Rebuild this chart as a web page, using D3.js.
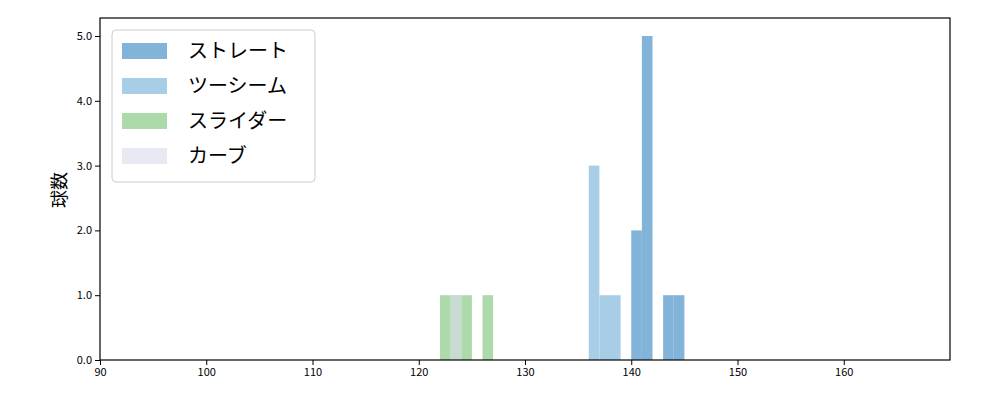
<!DOCTYPE html><html><head><meta charset="utf-8"><script src="https://cdn.jsdelivr.net/npm/d3@7"></script>
<style>body{margin:0;background:#fff}text{font-family:"Noto Sans CJK JP","DejaVu Sans",sans-serif}</style></head><body><svg width="1000" height="400"></svg><script>
const xTicks=[90,100,110,120,130,140,150,160];
const yTicks=[0,1,2,3,4,5];
const series=["ストレート","ツーシーム","スライダー","カーブ"];
const colors=["#82b3d8","#a7cee6","#acdaab","#dadaeb"];
const alphas=[1,1,1,0.6];
const binStarts=[[140,141,143,144],[136,137,138],[122,123,124,126],[123]];
const binCounts=[[2,5,1,1],[3,1,1],[1,1,1,1],[1]];
const svg=d3.select("svg");
const x=d3.scaleLinear().domain([90,170]).range([100,950]);
const y=d3.scaleLinear().domain([0,5]).range([360,36]);
series.forEach((s,i)=>{
 svg.append("g").selectAll("rect").data(binStarts[i].map((b,j)=>[b,binCounts[i][j]])).join("rect")
 .attr("x",d=>x(d[0])).attr("width",d=>x(d[0]+1)-x(d[0])).attr("y",d=>y(d[1])).attr("height",d=>y(0)-y(d[1]))
 .attr("fill",colors[i]).attr("fill-opacity",alphas[i]);
});
svg.append("g").attr("transform","translate(0,360)").call(d3.axisBottom(x).tickValues(xTicks).tickSize(5).tickSizeOuter(0)).call(g=>g.select(".domain").remove()).selectAll("text").attr("font-size",11).attr("fill","#000");
svg.append("g").attr("transform","translate(100,0)").call(d3.axisLeft(y).tickValues(yTicks).tickSize(5).tickSizeOuter(0)).call(g=>g.select(".domain").remove()).selectAll("text").attr("font-size",11).attr("fill","#000");
svg.append("rect").attr("x",100).attr("y",18).attr("width",850).attr("height",342).attr("fill","none").attr("stroke","#000").attr("stroke-width",1.2);
svg.append("text").attr("transform","translate(66,190) rotate(-90)").attr("text-anchor","middle").attr("font-size",18).text("球数");
const lg=svg.append("g");
lg.append("rect").attr("x",112).attr("y",30).attr("width",203).attr("height",152).attr("rx",4).attr("fill","#fff").attr("stroke","#ccc");
series.forEach((s,i)=>{
 lg.append("rect").attr("x",122).attr("y",43+i*35).attr("width",45).attr("height",16).attr("fill",colors[i]).attr("fill-opacity",i==3?0.6:1);
 lg.append("text").attr("x",188).attr("y",58+i*35).attr("font-size",20).text(s);
});
</script></body></html>
